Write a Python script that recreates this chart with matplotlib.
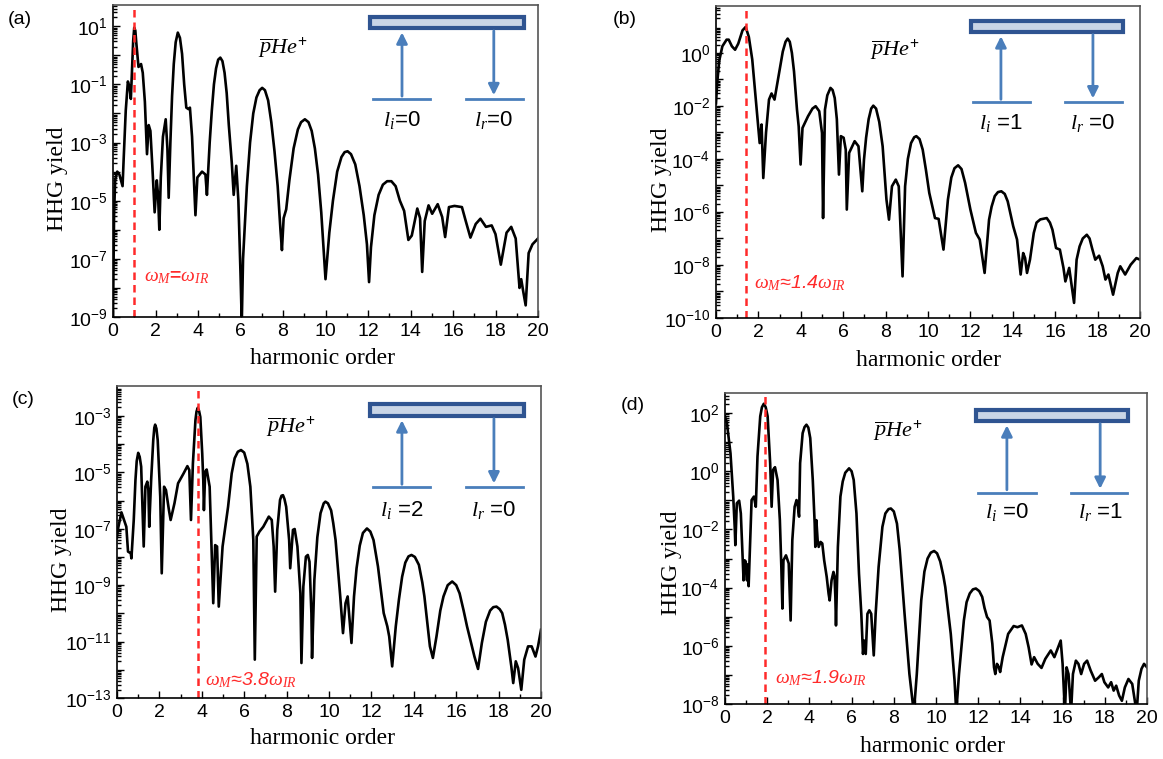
import numpy as np
import matplotlib
matplotlib.use("Agg")
import matplotlib.pyplot as plt
from matplotlib.patches import Rectangle
from matplotlib.ticker import FixedLocator, FuncFormatter, LogLocator, MultipleLocator

plt.rcParams['font.family'] = ['Liberation Sans', 'DejaVu Sans']
plt.rcParams['mathtext.fontset'] = 'custom'
plt.rcParams['mathtext.rm'] = 'Liberation Sans'
plt.rcParams['mathtext.it'] = 'Liberation Serif:italic'
plt.rcParams['mathtext.sf'] = 'Liberation Sans:italic'
plt.rcParams['mathtext.bf'] = 'Liberation Sans:bold'

# spectra: (harmonic order, log10 of HHG yield)
pts_a = [(0.0, -9.0), (0.02, -7.5), (0.05, -5.5), (0.1, -4.3), (0.2, -4.0), (0.3, -4.1), (0.45, -4.5), (0.5, -3.6),
         (0.6, -1.9), (0.7, -0.9), (0.78, -1.1), (0.84, -1.5), (0.9, -0.4), (0.95, 0.5), (1.0, 0.95), (1.05, 0.85),
         (1.1, 0.4), (1.2, -0.4), (1.32, -0.3), (1.4, -0.6), (1.5, -1.6), (1.55, -2.5), (1.6, -3.4), (1.68, -2.4),
         (1.76, -2.6), (1.85, -3.8), (1.96, -5.4), (2.06, -4.3), (2.12, -4.8), (2.18, -6.0), (2.25, -4.2),
         (2.35, -2.8), (2.48, -2.2), (2.56, -3.2), (2.62, -4.9), (2.7, -3.0), (2.78, -1.4), (2.86, -0.3),
         (2.95, 0.45), (3.05, 0.78), (3.15, 0.6), (3.25, 0.05), (3.35, -1.0), (3.45, -1.8), (3.55, -1.85),
         (3.62, -1.8), (3.72, -2.8), (3.88, -5.5), (3.97, -4.2), (4.19, -4.0), (4.35, -4.1), (4.42, -4.8),
         (4.55, -3.0), (4.65, -1.9), (4.75, -1.0), (4.85, -0.45), (4.95, -0.15), (5.05, -0.08), (5.15, -0.2),
         (5.25, -0.6), (5.35, -1.3), (5.45, -2.4), (5.59, -3.7), (5.68, -4.8), (5.8, -3.8), (5.9, -5.0),
         (6.0, -7.5), (6.06, -9.2), (6.12, -7.0), (6.3, -4.5), (6.45, -3.0), (6.6, -2.0), (6.75, -1.45),
         (6.9, -1.2), (7.02, -1.12), (7.15, -1.2), (7.3, -1.55), (7.45, -2.3), (7.6, -3.3), (7.75, -4.5),
         (7.88, -6.0), (7.95, -6.7), (8.03, -5.6), (8.15, -5.3), (8.3, -4.3), (8.5, -3.2), (8.7, -2.55),
         (8.85, -2.3), (9.03, -2.2), (9.2, -2.3), (9.35, -2.6), (9.5, -3.2), (9.65, -4.1), (9.8, -5.4),
         (9.92, -6.8), (10.0, -7.7), (10.18, -6.1), (10.35, -5.0), (10.55, -4.0), (10.75, -3.5), (10.9, -3.33),
         (11.04, -3.3), (11.2, -3.4), (11.4, -3.75), (11.6, -4.5), (11.8, -5.5), (11.95, -6.5), (12.05, -7.8),
         (12.14, -6.6), (12.3, -5.5), (12.5, -4.8), (12.7, -4.45), (12.9, -4.33), (13.1, -4.33), (13.3, -4.5),
         (13.5, -5.0), (13.7, -5.35), (13.9, -6.35), (14.06, -6.2), (14.32, -5.27), (14.45, -5.6), (14.55, -7.45),
         (14.67, -5.7), (14.85, -5.16), (15.02, -5.45), (15.28, -5.12), (15.49, -5.56), (15.63, -6.25),
         (15.81, -5.22), (16.07, -5.18), (16.42, -5.22), (16.6, -5.7), (16.82, -6.27), (17.07, -5.8),
         (17.29, -5.62), (17.55, -5.9), (17.82, -5.85), (18.0, -6.15), (18.25, -7.2), (18.52, -6.1),
         (18.74, -5.9), (18.95, -6.3), (19.13, -8.0), (19.21, -7.7), (19.3, -8.1), (19.42, -8.6), (19.56, -6.8),
         (19.74, -6.5), (20.0, -6.3)]

pts_b = [(0.0, -1.9), (0.05, -1.2), (0.15, -0.3), (0.3, 0.25), (0.5, 0.5), (0.6, 0.5), (0.75, 0.25), (0.9, 0.12),
         (1.05, 0.35), (1.25, 0.85), (1.4, 0.98), (1.55, 0.6), (1.71, -0.25), (1.88, -1.76), (2.06, -3.4),
         (2.15, -2.7), (2.23, -4.72), (2.36, -3.0), (2.5, -1.76), (2.62, -1.53), (2.76, -1.76), (3.03, -0.5),
         (3.15, 0.05), (3.28, 0.42), (3.38, 0.54), (3.48, 0.42), (3.58, 0.0), (3.68, -0.7), (3.82, -2.14),
         (3.9, -2.77), (3.99, -4.21), (4.08, -2.83), (4.34, -2.39), (4.55, -2.1), (4.7, -2.01), (4.87, -2.2),
         (5.0, -3.02), (5.05, -6.23), (5.14, -2.14), (5.25, -1.6), (5.4, -1.32), (5.5, -1.4), (5.6, -1.7),
         (5.7, -2.5), (5.8, -4.59), (5.89, -3.14), (6.02, -3.2), (6.12, -3.65), (6.17, -5.91), (6.28, -3.77),
         (6.54, -3.33), (6.72, -3.52), (6.9, -5.22), (6.98, -4.03), (7.08, -3.2), (7.2, -2.5), (7.32, -2.1),
         (7.42, -1.99), (7.55, -2.1), (7.7, -2.6), (7.86, -3.52), (8.04, -5.53), (8.16, -6.29), (8.3, -5.03),
         (8.48, -4.78), (8.62, -5.03), (8.8, -8.43), (8.92, -5.03), (9.05, -4.0), (9.2, -3.4), (9.35, -3.18),
         (9.45, -3.14), (9.6, -3.25), (9.75, -3.65), (9.9, -4.4), (10.06, -5.28), (10.33, -6.23), (10.5, -6.26),
         (10.73, -7.42), (10.94, -5.53), (11.1, -4.7), (11.25, -4.35), (11.42, -4.24), (11.58, -4.38),
         (11.75, -4.9), (11.9, -5.5), (12.0, -5.91), (12.26, -6.79), (12.44, -7.04), (12.67, -8.3),
         (12.88, -6.29), (13.0, -5.8), (13.15, -5.4), (13.3, -5.25), (13.46, -5.22), (13.62, -5.32),
         (13.76, -5.6), (13.9, -6.1), (14.02, -6.54), (14.2, -7.04), (14.37, -8.36), (14.49, -7.55),
         (14.58, -7.74), (14.67, -8.3), (14.81, -7.8), (14.99, -6.79), (15.12, -6.4), (15.3, -6.28),
         (15.6, -6.23), (15.75, -6.4), (15.87, -6.67), (16.04, -7.36), (16.22, -7.42), (16.39, -8.11),
         (16.48, -8.62), (16.66, -8.11), (16.89, -9.43), (17.01, -7.8), (17.15, -7.3), (17.3, -7.0),
         (17.49, -6.86), (17.62, -7.0), (17.75, -7.4), (17.89, -7.8), (18.07, -7.65), (18.24, -8.05),
         (18.37, -8.55), (18.51, -8.36), (18.73, -9.12), (18.95, -8.3), (19.07, -8.05), (19.3, -8.36),
         (19.56, -7.99), (19.83, -7.74), (20.0, -7.8)]

pts_c = [(0.0, -7.3), (0.05, -6.99), (0.21, -6.42), (0.44, -6.93), (0.52, -7.81), (0.65, -7.87), (0.68, -8.05),
         (0.79, -6.69), (0.87, -5.28), (0.93, -4.6), (1.0, -4.31), (1.07, -4.45), (1.14, -4.8), (1.22, -6.69),
         (1.26, -7.63), (1.34, -5.51), (1.43, -5.33), (1.48, -5.63), (1.52, -6.93), (1.61, -5.28), (1.71, -3.86),
         (1.76, -3.42), (1.8, -3.31), (1.86, -3.45), (1.92, -3.86), (2.04, -5.87), (2.11, -8.58), (2.22, -5.51),
         (2.31, -5.63), (2.45, -6.34), (2.53, -6.69), (2.71, -6.1), (2.88, -5.39), (3.14, -5.04), (3.32, -4.78),
         (3.41, -4.92), (3.49, -6.69), (3.58, -4.69), (3.7, -3.15), (3.75, -2.85), (3.81, -2.71), (3.87, -2.82),
         (3.93, -3.04), (4.02, -4.33), (4.07, -5.28), (4.1, -6.34), (4.16, -4.98), (4.23, -4.9), (4.37, -5.51),
         (4.45, -7.4), (4.54, -9.64), (4.63, -7.58), (4.72, -7.63), (4.8, -9.76), (4.98, -7.63), (5.24, -6.22),
         (5.41, -5.04), (5.55, -4.5), (5.7, -4.27), (5.85, -4.21), (6.0, -4.3), (6.15, -4.7), (6.29, -5.51),
         (6.43, -7.4), (6.5, -11.64), (6.59, -7.28), (6.72, -7.1), (6.9, -6.93), (7.16, -6.57), (7.3, -6.69),
         (7.39, -7.63), (7.46, -9.23), (7.56, -7.04), (7.69, -5.98), (7.76, -5.83), (7.83, -5.81), (7.9, -5.95),
         (7.98, -6.22), (8.12, -7.4), (8.17, -8.4), (8.3, -7.04), (8.38, -7.01), (8.51, -7.63), (8.65, -9.28),
         (8.7, -11.76), (8.79, -9.05), (8.91, -7.99), (9.0, -7.93), (9.08, -8.17), (9.17, -10.0), (9.2, -11.58),
         (9.31, -8.81), (9.45, -7.3), (9.6, -6.45), (9.75, -6.1), (9.83, -6.04), (9.95, -6.1), (10.1, -6.35),
         (10.2, -6.8), (10.31, -7.4), (10.53, -9.4), (10.66, -10.7), (10.78, -9.64), (10.88, -9.4),
         (11.06, -11.05), (11.18, -9.4), (11.3, -8.4), (11.45, -7.6), (11.6, -7.15), (11.79, -6.99),
         (11.95, -7.1), (12.1, -7.4), (12.2, -7.85), (12.31, -8.34), (12.58, -9.99), (12.75, -10.46),
         (12.84, -10.82), (12.98, -11.88), (13.15, -10.46), (13.3, -9.5), (13.45, -8.7), (13.6, -8.2),
         (13.75, -7.98), (13.89, -7.93), (14.05, -8.0), (14.24, -8.28), (14.4, -8.9), (14.5, -9.4),
         (14.76, -11.17), (14.9, -11.58), (15.07, -10.82), (15.25, -9.9), (15.4, -9.4), (15.6, -9.0),
         (15.81, -8.87), (16.0, -9.0), (16.16, -9.29), (16.35, -9.9), (16.51, -10.46), (16.86, -11.53),
         (17.03, -11.97), (17.21, -11.05), (17.4, -10.3), (17.6, -9.9), (17.75, -9.78), (17.9, -9.76),
         (18.05, -9.85), (18.17, -9.99), (18.3, -10.4), (18.43, -10.94), (18.6, -11.88), (18.69, -12.47),
         (18.81, -11.7), (18.92, -11.94), (19.07, -12.71), (19.21, -11.64), (19.39, -11.17), (19.56, -11.17),
         (19.74, -11.53), (19.86, -11.17), (20.0, -10.58)]

pts_d = [(0.0, 1.89), (0.09, 1.66), (0.26, 0.62), (0.39, -0.87), (0.46, -1.91), (0.49, -2.54), (0.56, -1.1),
         (0.67, -1.01), (0.75, -1.45), (0.84, -3.06), (0.88, -3.75), (0.93, -3.06), (0.98, -3.1), (1.04, -3.75),
         (1.09, -3.2), (1.12, -3.95), (1.19, -2.48), (1.26, -0.99), (1.37, -0.87), (1.46, -1.22), (1.54, 0.51),
         (1.67, 1.89), (1.75, 2.2), (1.84, 2.32), (1.93, 2.2), (2.02, 1.89), (2.14, 0.28), (2.21, -1.22),
         (2.28, 0.05), (2.37, 0.14), (2.49, -0.3), (2.6, -1.68), (2.67, -3.29), (2.72, -4.72), (2.77, -3.06),
         (2.89, -2.89), (3.02, -3.17), (3.11, -5.13), (3.19, -2.37), (3.3, -1.22), (3.39, -0.99), (3.44, -1.13),
         (3.51, -1.56), (3.56, 0.28), (3.68, 1.31), (3.77, 1.52), (3.86, 1.6), (3.95, 1.5), (4.04, 1.14),
         (4.16, -0.3), (4.25, -1.79), (4.28, -2.6), (4.33, -1.68), (4.39, -2.37), (4.44, -2.6), (4.53, -2.43),
         (4.61, -2.48), (4.7, -3.06), (4.82, -3.63), (4.91, -4.21), (4.96, -4.44), (5.05, -3.75), (5.14, -3.46),
         (5.19, -3.6), (5.23, -4.32), (5.26, -5.3), (5.35, -2.6), (5.47, -0.87), (5.58, -0.35), (5.7, -0.05),
         (5.88, 0.1), (6.0, 0.0), (6.1, -0.3), (6.23, -1.45), (6.35, -3.52), (6.46, -4.9), (6.54, -6.28),
         (6.6, -5.82), (6.67, -6.28), (6.75, -4.9), (6.84, -4.78), (6.93, -4.9), (7.05, -6.33), (7.14, -4.9),
         (7.28, -3.29), (7.46, -1.91), (7.6, -1.45), (7.75, -1.3), (7.86, -1.28), (8.0, -1.38), (8.15, -1.8),
         (8.28, -2.71), (8.51, -4.9), (8.74, -6.97), (8.95, -8.3), (9.09, -6.97), (9.3, -4.44), (9.45, -3.45),
         (9.6, -3.0), (9.75, -2.8), (9.91, -2.74), (10.05, -2.82), (10.2, -3.1), (10.35, -3.6), (10.44, -3.98),
         (10.7, -5.59), (10.88, -7.2), (10.96, -8.3), (11.09, -6.97), (11.32, -5.13), (11.45, -4.5), (11.6, -4.2),
         (11.75, -4.06), (11.89, -4.03), (12.05, -4.12), (12.19, -4.32), (12.3, -4.7), (12.42, -5.01),
         (12.54, -5.13), (12.67, -5.93), (12.75, -6.74), (12.81, -6.97), (12.89, -6.62), (12.98, -6.74),
         (13.04, -6.9), (13.16, -6.39), (13.42, -5.59), (13.68, -5.32), (13.86, -5.36), (14.07, -5.3),
         (14.25, -5.59), (14.39, -6.05), (14.53, -6.64), (14.65, -6.39), (14.82, -6.62), (15.0, -6.76),
         (15.18, -6.45), (15.44, -6.16), (15.61, -6.39), (15.79, -6.05), (15.91, -5.82), (16.0, -6.62),
         (16.11, -8.3), (16.19, -6.74), (16.28, -6.97), (16.4, -8.3), (16.49, -6.97), (16.63, -6.51),
         (16.75, -6.62), (16.88, -6.97), (17.02, -6.62), (17.16, -6.51), (17.33, -6.85), (17.54, -7.2),
         (17.72, -7.08), (17.86, -6.97), (17.98, -7.25), (18.16, -7.43), (18.3, -7.25), (18.42, -7.54),
         (18.54, -7.37), (18.68, -7.71), (18.81, -7.89), (18.95, -7.43), (19.12, -7.14), (19.3, -7.31),
         (19.42, -7.89), (19.51, -8.3), (19.61, -7.2), (19.74, -6.79), (19.86, -6.62), (20.0, -6.74)]

panel_tags = ['(a)', '(b)', '(c)', '(d)']
omega_m = [1.0, 1.4, 3.8, 1.9]
omega_txt = [r'$\omega_{M}$=$\omega_{IR}$', r'$\omega_{M}$≈1.4$\omega_{IR}$',
             r'$\omega_{M}$≈3.8$\omega_{IR}$', r'$\omega_{M}$≈1.9$\omega_{IR}$']
li_txt = [r'$l_{i}$=0', r'$l_{i}$ =1', r'$l_{i}$ =2', r'$l_{i}$ =0']
lr_txt = [r'$l_{r}$=0', r'$l_{r}$ =0', r'$l_{r}$ =0', r'$l_{r}$ =1']
y_exp_range = [(-9, 1), (-10, 0), (-13, -3), (-8, 2)]
y_labeled = [range(-9, 2, 2), range(-10, 1, 2), range(-13, -2, 2), range(-8, 3, 2)]
y_top = [1.73, 1.77, -1.94, 2.69]

W, H = 1163, 759
fig = plt.figure(figsize=(W / 100, H / 100), dpi=100)

# axes boxes in pixels: left, right, top, bottom
boxes = [(113, 538, 5, 317), (716, 1140, 6, 318), (117, 541, 386, 698), (725, 1147, 393, 704)]
# inset geometry in axes fraction: bar x0,x1,y0,y1 / level y / left line / right line / arrows x / label y / pHe pos
insets = [
    (0.605, 0.967, 0.926, 0.962, 0.699, (0.612, 0.746), (0.831, 0.965), (0.68, 0.896), 0.631, (0.40, 0.865)),
    (0.601, 0.960, 0.917, 0.952, 0.692, (0.606, 0.741), (0.823, 0.958), (0.672, 0.889), 0.625, (0.422, 0.859)),
    (0.597, 0.960, 0.904, 0.942, 0.676, (0.604, 0.738), (0.823, 0.958), (0.672, 0.889), 0.603, (0.41, 0.869)),
    (0.595, 0.955, 0.910, 0.945, 0.680, (0.600, 0.737), (0.820, 0.953), (0.668, 0.889), 0.617, (0.41, 0.880)),
]
red_pos = [(1.46, 0.128), (1.8, 0.113), (4.15, 0.058), (2.37, 0.084)]
ylab_pos = [(57, 179), (661, 180), (61, 560), (671, 563)]
xlab_pos = [(322, 358), (928, 361), (322, 738), (932, 747)]
tag_pos = [(20, 19), (625, 20), (23, 400), (633, 405)]

spectra = [pts_a, pts_b, pts_c, pts_d]
blue = '#4a7ebb'
red = '#ff2a2a'

for k in range(4):
    l, r, t, b = boxes[k]
    ax = fig.add_axes([l / W, 1 - b / H, (r - l) / W, (b - t) / H])
    hx = [p[0] for p in spectra[k]]
    hy = [10.0 ** p[1] for p in spectra[k]]
    ax.plot(hx, hy, color='black', lw=1.9, solid_joinstyle='round')
    ax.axvline(omega_m[k], color=red, lw=1.8, ls=(0, (3, 2)))
    ax.set_yscale('log')
    lo, hi = y_exp_range[k]
    ax.set_xlim(0, 20)
    ax.set_ylim(10.0 ** lo, 10.0 ** y_top[k])

    labeled = set(y_labeled[k])
    ax.yaxis.set_major_locator(FixedLocator([10.0 ** e for e in range(lo, hi + 1)]))
    ax.yaxis.set_major_formatter(FuncFormatter(
        lambda v, p, labeled=labeled: (r'$\mathrm{10^{%d}}$' % round(np.log10(v)))
        if round(np.log10(v)) in labeled else ''))
    ax.yaxis.set_minor_locator(LogLocator(base=10, subs=np.arange(2, 10), numticks=100))
    ax.yaxis.set_minor_formatter(FuncFormatter(lambda v, p: ''))
    ax.xaxis.set_major_locator(MultipleLocator(2))
    ax.xaxis.set_minor_locator(MultipleLocator(1))
    ax.tick_params(which='both', direction='in', top=False, right=False, labelsize=14, width=1.0)
    ax.tick_params(which='major', length=5, pad=4)
    ax.tick_params(which='minor', length=3)
    for s in ax.spines.values():
        s.set_linewidth(1.2)
    ax.spines['top'].set_color('#555555')
    ax.spines['right'].set_color('#555555')

    bx0, bx1, by0, by1, ly, lline, rline, arx, laby, phe = insets[k]
    ax.add_patch(Rectangle((bx0, by0), bx1 - bx0, by1 - by0, transform=ax.transAxes,
                           facecolor='#c9d5e6', edgecolor='#2f5491', lw=3, zorder=5))
    ax.plot(lline, [ly, ly], color=blue, lw=2, transform=ax.transAxes, zorder=5)
    ax.plot(rline, [ly, ly], color=blue, lw=2, transform=ax.transAxes, zorder=5)
    ax.annotate('', xy=(arx[0], by0 - 0.005), xytext=(arx[0], ly), xycoords='axes fraction',
                arrowprops=dict(arrowstyle='-|>', color=blue, lw=2, mutation_scale=16), zorder=5)
    ax.annotate('', xy=(arx[1], ly + 0.003), xytext=(arx[1], by0), xycoords='axes fraction',
                arrowprops=dict(arrowstyle='-|>', color=blue, lw=2, mutation_scale=16), zorder=5)
    ax.text(arx[0], laby, li_txt[k], transform=ax.transAxes, ha='center', va='center', fontsize=16)
    ax.text(arx[1], laby, lr_txt[k], transform=ax.transAxes, ha='center', va='center', fontsize=16)
    ax.text(phe[0], phe[1], r'$\overline{p}He^{+}$', transform=ax.transAxes, ha='center', va='center',
            fontsize=16)
    if k == 0:
        ax.text(red_pos[k][0], red_pos[k][1], omega_txt[k], transform=ax.get_xaxis_transform(),
                ha='left', va='center', fontsize=14, color=red, weight='bold')
    else:
        ax.text(red_pos[k][0], red_pos[k][1], omega_txt[k], transform=ax.get_xaxis_transform(),
                ha='left', va='center', fontsize=14, color=red, style='italic')

    fig.text(ylab_pos[k][0] / W, 1 - ylab_pos[k][1] / H, 'HHG yield', rotation=90, ha='center', va='center',
             fontsize=17, family='Liberation Serif')
    fig.text(xlab_pos[k][0] / W, 1 - xlab_pos[k][1] / H, 'harmonic order', ha='center', va='center',
             fontsize=17, family='Liberation Serif')
    fig.text(tag_pos[k][0] / W, 1 - tag_pos[k][1] / H, panel_tags[k], ha='center', va='center', fontsize=14)

fig.savefig('out.png', dpi=100)
